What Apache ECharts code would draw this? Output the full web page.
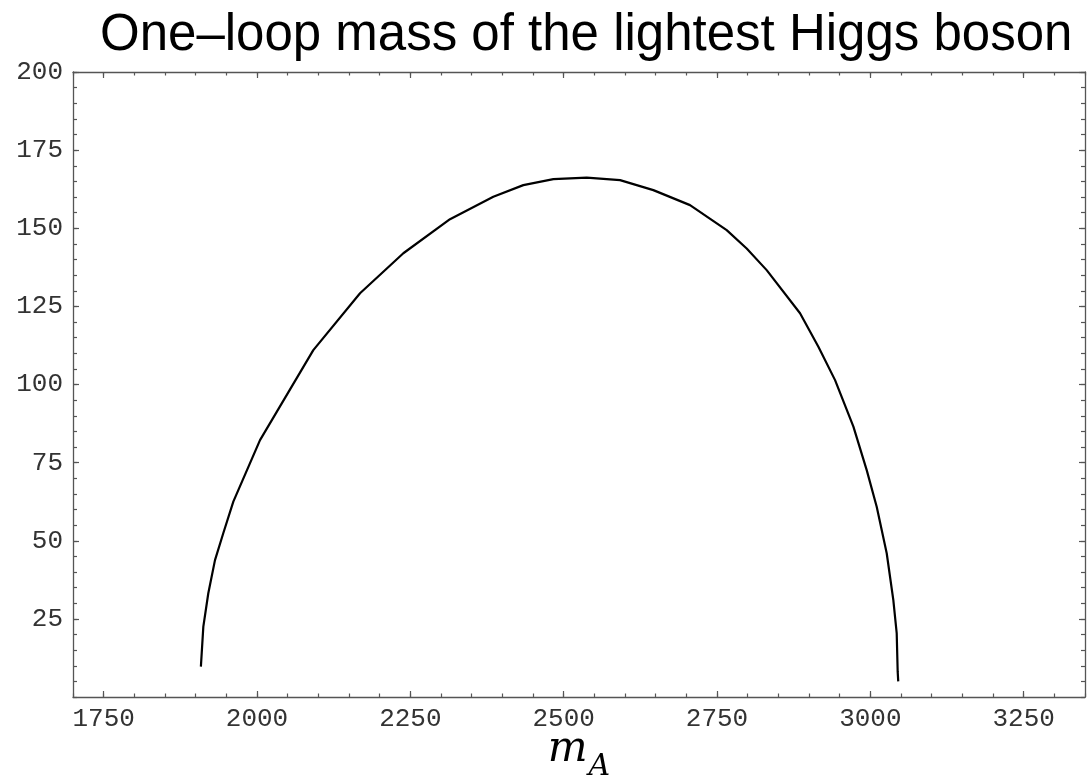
<!DOCTYPE html>
<html>
<head>
<meta charset="utf-8">
<script src="https://cdn.jsdelivr.net/npm/echarts@6/dist/echarts.min.js"></script>
<style>html,body{margin:0;padding:0;background:#fff}#c{width:1087px;height:778px}</style>
</head>
<body>
<div id="c"></div>
<script>
// Curve: one-loop mass of lightest Higgs vs m_A  [m_A, m_h]
var mA = [1908.5, 1912.5, 1920.6, 1931.5, 1945, 1961.4, 2004.9, 2091.8, 2168, 2238.6, 2314.7, 2385.3, 2434.2, 2483.2, 2537.6, 2591.9, 2646.2, 2706, 2765.8, 2798.4, 2831, 2885.4, 2915.3, 2942.5, 2972.4, 2994.1, 3010.4, 3026.7, 3037.5, 3043, 3044.6, 3045.5];
var mh = [9.7, 22.5, 33.2, 43.8, 52.4, 62.5, 82.2, 111, 129.2, 142, 152.9, 160.1, 163.8, 165.7, 166.2, 165.4, 162.2, 157.4, 149.4, 143.5, 136.6, 122.8, 112.1, 101.4, 86.5, 72.6, 60.9, 46, 31, 20.4, 8.1, 5];

var xMajorTicks = [1750, 2000, 2250, 2500, 2750, 3000, 3250];
var yMajorTicks = [25, 50, 75, 100, 125, 150, 175, 200];
var xMinorTicks = [];
for (var v = 1700; v <= 3350; v += 50) xMinorTicks.push(v);
var yMinorTicks = [];
for (var w = 0; w <= 200; w += 5) yMinorTicks.push(w);

var X_MIN = 1700, X_MAX = 3350, Y_MIN = 0, Y_MAX = 200;
var frameColor = '#555';
var labelFont = {fontFamily: 'Liberation Mono', fontSize: 26, color: '#333'};

function plain(val) { return String(val); }

function xAx(pos, ticks, len, showLine, labels) {
  return {
    type: 'value', position: pos, min: X_MIN, max: X_MAX,
    splitLine: {show: false},
    axisLine: {show: showLine, onZero: false, lineStyle: {color: frameColor, width: 1.3}},
    axisTick: {show: true, inside: true, length: len, customValues: ticks, lineStyle: {color: frameColor, width: 1.2}},
    axisLabel: labels ? Object.assign({show: true, customValues: ticks, margin: 9, formatter: plain}, labelFont) : {show: false}
  };
}
function yAx(pos, ticks, len, showLine, labels) {
  return {
    type: 'value', position: pos, min: Y_MIN, max: Y_MAX,
    splitLine: {show: false},
    axisLine: {show: showLine, onZero: false, lineStyle: {color: frameColor, width: 1.3}},
    axisTick: {show: true, inside: true, length: len, customValues: ticks, lineStyle: {color: frameColor, width: 1.2}},
    axisLabel: labels ? Object.assign({show: true, customValues: ticks, margin: 10, formatter: plain}, labelFont) : {show: false}
  };
}

var xAxes = [
  xAx('bottom', xMajorTicks, 6, true, true),
  xAx('bottom', xMinorTicks, 3.5, false, false),
  xAx('top', xMajorTicks, 6, true, false),
  xAx('top', xMinorTicks, 3.5, false, false)
];
xAxes[0].name = '{m|m}{s|A}';
xAxes[0].nameLocation = 'middle';
xAxes[0].nameGap = 32;
xAxes[0].nameMoveOverlap = false;
xAxes[0].nameTextStyle = {
  rich: {
    m: {fontFamily: 'DejaVu Serif', fontStyle: 'italic', fontSize: 42, color: '#000', padding: [0, 1, 11, 0], verticalAlign: 'bottom'},
    s: {fontFamily: 'DejaVu Serif', fontStyle: 'italic', fontSize: 30, color: '#000', verticalAlign: 'bottom'}
  }
};
var yAxes = [
  yAx('left', yMajorTicks, 6, true, true),
  yAx('left', yMinorTicks, 4, false, false),
  yAx('right', yMajorTicks, 6, true, false),
  yAx('right', yMinorTicks, 4, false, false)
];

var chart = echarts.init(document.getElementById('c'), null, {renderer: 'canvas'});
chart.setOption({
  backgroundColor: '#fff',
  animation: false,
  title: {
    text: 'One\u2013loop mass of the lightest Higgs boson',
    left: 95, top: 5,
    textStyle: {fontFamily: 'Liberation Sans', fontSize: 51, fontWeight: 'normal', color: '#000'}
  },
  grid: {left: 73, right: 2, top: 72, bottom: 81, containLabel: false, outerBoundsMode: 'none'},
  xAxis: xAxes,
  yAxis: yAxes,
  series: [{
    type: 'line',
    xAxisIndex: 0, yAxisIndex: 0,
    data: mA.map(function (x, i) { return [x, mh[i]]; }),
    showSymbol: false,
    symbol: 'none',
    smooth: false,
    lineStyle: {color: '#000', width: 2.2},
    clip: true
  }]
});
</script>
</body>
</html>
